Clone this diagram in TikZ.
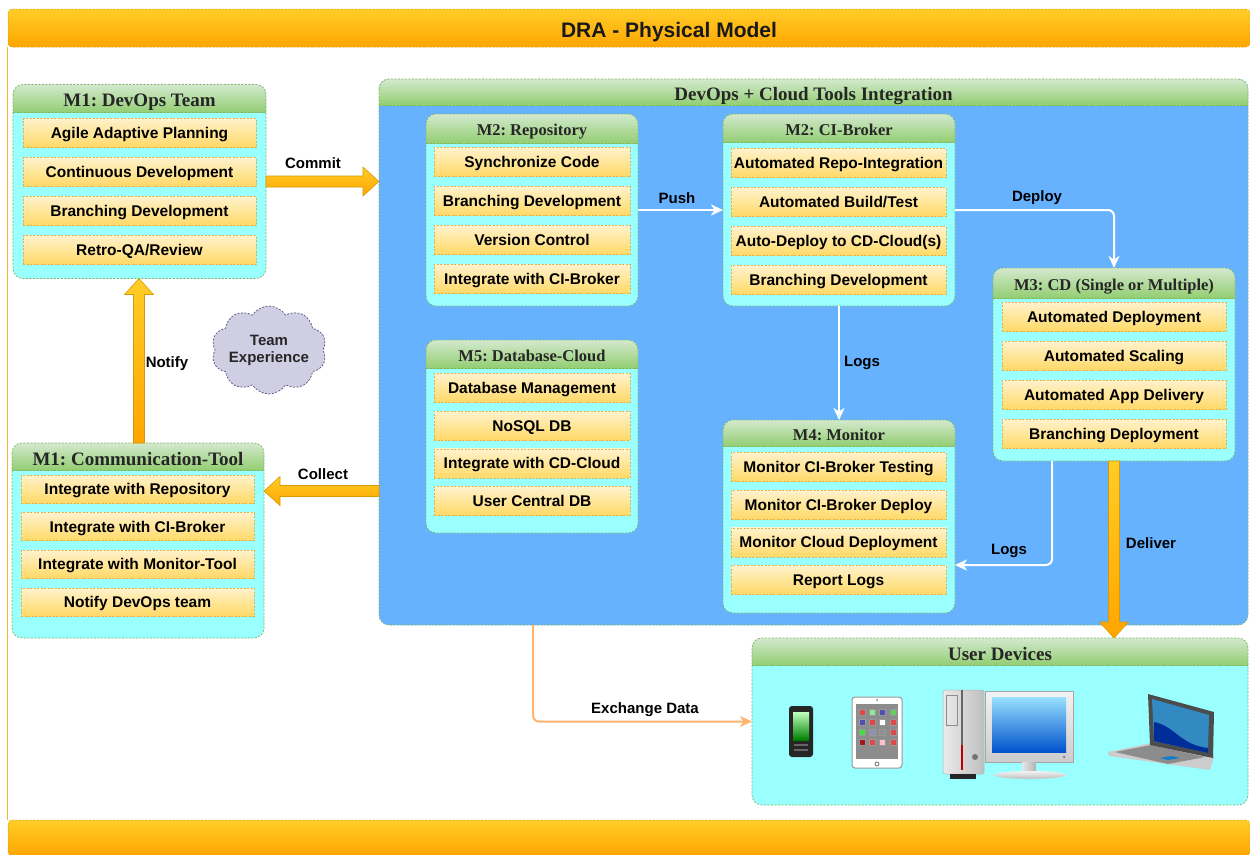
\documentclass[tikz,border=0pt]{standalone}
\usepackage{fontspec}
\setmainfont{Liberation Serif}
\setsansfont{Liberation Sans}
\usetikzlibrary{calc,shapes.symbols,arrows.meta}
\frenchspacing

\definecolor{hdtop}{HTML}{D3E9CE}
\definecolor{hdbot}{HTML}{93CE72}
\definecolor{boxline}{HTML}{82B366}
\definecolor{cyanbody}{HTML}{99FFFF}
\definecolor{bluebody}{HTML}{66B2FF}
\definecolor{itemtop}{HTML}{FFF2CC}
\definecolor{itembot}{HTML}{FFD966}
\definecolor{itemline}{HTML}{D6B656}
\definecolor{bartop}{HTML}{FFCD28}
\definecolor{barbot}{HTML}{FFA500}
\definecolor{barline}{HTML}{D79B00}
\definecolor{framel}{HTML}{F2B92E}
\definecolor{exch}{HTML}{FFB570}
\definecolor{cloudfill}{HTML}{D0CEE2}
\definecolor{cloudline}{HTML}{56517E}

\newcommand\itemfont{\sffamily\bfseries\fontsize{15.5}{17}\selectfont}
\newcommand\lblfont{\sffamily\bfseries\fontsize{15}{17}\selectfont}
\newcommand\bigtitlefont{\rmfamily\bfseries\fontsize{19}{21}\selectfont}
\newcommand\subtitlefont{\rmfamily\bfseries\fontsize{16.5}{18}\selectfont}

\tikzset{
  modbox/.style={dash pattern=on 2pt off 1.5pt, line width=0.7pt,
    rounded corners=10pt, fill=cyanbody, inner sep=0pt, outer sep=0pt},
  modline/.style={draw=boxline, dash pattern=on 2pt off 1.5pt, line width=0.7pt, rounded corners=10pt},
  item/.style={draw=itemline, dash pattern=on 2pt off 1.5pt, line width=0.6pt,
    top color=itemtop, bottom color=itembot, inner sep=0pt, outer sep=0pt,
    text height=11pt, text depth=0pt, font=\itemfont, text=black},
  bar/.style={draw=barline, dash pattern=on 2pt off 1.5pt, line width=0.5pt,
    top color=bartop, bottom color=barbot, rounded corners=4pt,
    inner sep=0pt, outer sep=0pt},
  bigtitle/.style={font=\bigtitlefont, text=black!85, inner sep=0pt, text height=12.5pt, text depth=0pt},
  subtitle/.style={font=\subtitlefont, text=black!85, inner sep=0pt, text height=11pt, text depth=0pt},
  lbl/.style={font=\lblfont, text=black, inner sep=1pt},
  wire/.style={draw=white, line width=2pt, rounded corners=6pt,
    -{Stealth[length=12pt,width=11pt,inset=3.5pt]}},
  xwire/.style={draw=exch, line width=2pt, rounded corners=6pt,
    -{Stealth[length=12pt,width=11pt,inset=3.5pt]}},
  barrow/.style={top color=bartop, bottom color=barbot, draw=barline, line width=0.6pt},
}

% green gradient header band of module #1, #2 high, then the dashed outline
\newcommand\modhead[2]{%
  \begin{scope}
    \clip[rounded corners=10pt] (#1.north west) rectangle (#1.south east);
    \shade[top color=hdtop, bottom color=hdbot, middle color=hdtop!50!hdbot]
      (#1.north west) rectangle ([yshift=-#2]#1.north east);
  \end{scope}
  \draw[boxline, line width=0.5pt, dash pattern=on 2pt off 1.5pt]
    ([yshift=-#2]#1.north west) -- ([yshift=-#2]#1.north east);
  \draw[modline] (#1.north west) rectangle (#1.south east);}

% thick shaded block arrow from #1 to #2 (coordinate names)
\newcommand\blockarrow[2]{%
  \coordinate (ba-h) at ($(#2)!16pt!(#1)$);
  \shadedraw[barrow]
    ($(#1)!5.5pt!90:(#2)$) -- ($(ba-h)!5.5pt!90:(#2)$) -- ($(ba-h)!14.5pt!90:(#2)$) --
    (#2) --
    ($(ba-h)!14.5pt!-90:(#2)$) -- ($(ba-h)!5.5pt!-90:(#2)$) -- ($(#1)!5.5pt!-90:(#2)$) -- cycle;}

\begin{document}
\begin{tikzpicture}[x=1pt,y=-1pt]
\useasboundingbox (0,0) rectangle (1250,854);
\fill[white] (0,0) rectangle (1250,854);

% page frame, header and footer bars
\draw[framel, line width=0.8pt] (7.5,47) -- (7.5,820);
\node[bar, minimum width=1242pt, minimum height=38pt] (titlebar) at (629,28) {};
\node[font=\sffamily\bfseries\fontsize{21}{24}\selectfont, text=black!90, text height=15pt, text depth=0pt, inner sep=0pt] (titletext) at (669,30) {DRA - Physical Model};
\node[bar, minimum width=1242pt, minimum height=36pt] (footbar) at (629,838) {};

% ---- M1: DevOps Team ----
\node[modbox, minimum width=253pt, minimum height=194pt] (devops) at (139.5,181.5) {};
\modhead{devops}{28pt}
\node[bigtitle] (devops-t) at ([yshift=-16pt]devops.north) {M1: DevOps Team};
\foreach \txt [count=\i] in {Agile Adaptive Planning, Continuous Development, Branching Development, Retro-QA/Review}
  \node[item, minimum width=233pt, minimum height=29pt] (dv\i) at (139.5,{133+39*(\i-1)}) {\txt};

% ---- M1: Communication-Tool ----
\node[modbox, minimum width=252pt, minimum height=195pt] (comm) at (138,540.5) {};
\modhead{comm}{27pt}
\node[bigtitle] (comm-t) at ([yshift=-16pt]comm.north) {M1: Communication-Tool};
\foreach \txt [count=\i] in {Integrate with Repository, Integrate with CI-Broker, Integrate with Monitor-Tool, Notify DevOps team}
  \node[item, minimum width=233pt, minimum height=28pt] (cm\i) at (137.5,{489+37.7*(\i-1)}) {\txt};

% ---- DevOps + Cloud Tools Integration ----
\node[modbox, fill=bluebody, minimum width=869pt, minimum height=546pt] (big) at (813.5,352) {};
\modhead{big}{26pt}
\node[bigtitle] (big-t) at ([yshift=-15pt]big.north) {DevOps + Cloud Tools Integration};

% M2: Repository
\node[modbox, minimum width=212pt, minimum height=192pt] (repo) at (532,210) {};
\modhead{repo}{29pt}
\node[subtitle] (repo-t) at ([yshift=-15.5pt]repo.north) {M2: Repository};
\foreach \txt [count=\i] in {Synchronize Code, Branching Development, Version Control, Integrate with CI-Broker}
  \node[item, minimum width=196pt, minimum height=29pt] (rp\i) at (532,{162+39*(\i-1)}) {\txt};

% M2: CI-Broker
\node[modbox, minimum width=232pt, minimum height=192pt] (ci) at (839,210) {};
\modhead{ci}{28pt}
\node[subtitle] (ci-t) at ([yshift=-16pt]ci.north) {M2: CI-Broker};
\foreach \txt [count=\i] in {Automated Repo-Integration, Automated Build/Test, Auto-Deploy to CD-Cloud(s), Branching Development}
  \node[item, minimum width=215pt, minimum height=29pt] (cb\i) at (838.5,{163+39*(\i-1)}) {\txt};

% M3: CD
\node[modbox, minimum width=242pt, minimum height=193pt] (m3) at (1114,364.5) {};
\modhead{m3}{30pt}
\node[subtitle] (m3-t) at ([yshift=-16.5pt]m3.north) {M3: CD (Single or Multiple)};
\foreach \txt [count=\i] in {Automated Deployment, Automated Scaling, Automated App Delivery, Branching Deployment}
  \node[item, minimum width=224pt, minimum height=29pt] (cd\i) at (1114,{317+39*(\i-1)}) {\txt};

% M4: Monitor
\node[modbox, minimum width=232pt, minimum height=193pt] (m4) at (839,516.5) {};
\modhead{m4}{26pt}
\node[subtitle] (m4-t) at ([yshift=-14.5pt]m4.north) {M4: Monitor};
\foreach \txt [count=\i] in {Monitor CI-Broker Testing, Monitor CI-Broker Deploy, Monitor Cloud Deployment, Report Logs}
  \node[item, minimum width=215pt, minimum height=29pt] (mn\i) at (838.5,{467+37.7*(\i-1)}) {\txt};

% M5: Database-Cloud
\node[modbox, minimum width=212pt, minimum height=193pt] (m5) at (532,436.5) {};
\modhead{m5}{28pt}
\node[subtitle] (m5-t) at ([yshift=-15.5pt]m5.north) {M5: Database-Cloud};
\foreach \txt [count=\i] in {Database Management, NoSQL DB, Integrate with CD-Cloud, User Central DB}
  \node[item, minimum width=196pt, minimum height=29pt] (db\i) at (532,{388+37.7*(\i-1)}) {\txt};

% ---- User Devices ----
\node[modbox, minimum width=496pt, minimum height=167pt] (ud) at (1000,721.5) {};
\modhead{ud}{27pt}
\node[bigtitle] (ud-t) at ([yshift=-16.5pt]ud.north) {User Devices};

% ---- Team Experience cloud ----
\node[cloud, cloud puffs=10, cloud puff arc=115, cloud ignores aspect, draw=cloudline,
  dash pattern=on 2pt off 1.5pt, line width=0.7pt, fill=cloudfill,
  minimum width=106pt, minimum height=88pt, inner sep=0pt, align=center,
  font=\lblfont, text=black!85] (team) at (269,350) {Team\\Experience};

% ---- block arrows ----
\coordinate (commitA) at (devops.east);
\coordinate (commitB) at (devops.east -| big.west);
\blockarrow{commitA}{commitB}
\coordinate (notifyA) at (139,443);
\coordinate (notifyB) at (notifyA |- devops.south);
\blockarrow{notifyA}{notifyB}
\coordinate (collectA) at (big.west |- 0,491);
\coordinate (collectB) at (collectA -| comm.east);
\blockarrow{collectA}{collectB}
\coordinate (deliverA) at (m3.south);
\coordinate (deliverB) at (m3.south |- ud.north);
\blockarrow{deliverA}{deliverB}

% ---- thin connectors ----
\draw[wire] (repo) -- (ci);
\draw[wire] (ci.east) -| (m3.north);
\draw[wire] (ci) -- (m4);
\coordinate (m3out) at ([xshift=-62pt]m3.south);
\draw[wire] (m3out) |- ([yshift=-48.5pt]m4.east);
\coordinate (bigout) at (533,625);
\draw[xwire] (bigout) |- (ud.west);

% ---- connector labels ----
\node[lbl] (l-commit) at (313,163) {Commit};
\node[lbl] (l-notify) at (167,364) {Notify};
\node[lbl] (l-collect) at (323,474) {Collect};
\node[lbl] (l-push) at (677,198) {Push};
\node[lbl] (l-deploy) at (1037,198) {Deploy};
\node[lbl] (l-logs1) at (862,363) {Logs};
\node[lbl] (l-logs2) at (1009,551) {Logs};
\node[lbl] (l-deliver) at (1151,543) {Deliver};
\node[lbl] (l-exch) at (645,710) {Exchange Data};

% ---- device icons ----
% phone
\fill[black!85, rounded corners=3pt] (789,706) rectangle (813,757);
\shade[top color=green!25!white, bottom color=green!50!black] (793,712) rectangle (809,740);
\fill[black!60] (794,744) rectangle (808,746);
\fill[black!60] (794,749) rectangle (808,751);
% tablet
\draw[black!40, fill=white, rounded corners=3pt, line width=1pt] (852,697) rectangle (902,768);
\fill[black!45] (856,704) rectangle (898,759);
\fill[black!50] (877,700) circle (1pt);
\draw[black!55, line width=0.8pt] (877,764) circle (2pt);
\foreach \c [count=\k from 0] in {E04848,90E890,5050B0,60D060, 5050B0,E04848,FFFFFF,E04848, 40E040,9090B0,909090,E04848, A01818,E04848,FFC0C8,E04848}{
  \pgfmathtruncatemacro\col{mod(\k,4)}
  \pgfmathtruncatemacro\row{div(\k,4)}
  \definecolor{appc}{HTML}{\c}
  \fill[appc, draw=black!40, line width=0.3pt] ({859+10.3*\col},{709+10*\row}) rectangle ++(6,6);
}
% desktop tower
\shade[left color=black!8, right color=black!25, rounded corners=2pt] (943,690) rectangle (984,774);
\draw[black!30, line width=0.5pt, rounded corners=2pt] (943,690) rectangle (984,774);
\draw[black!45, line width=0.6pt] (946,695) rectangle (957,725);
\fill[black!60] (961,690) rectangle (963,745);
\fill[red!75!black] (961,745) rectangle (963,770);
\fill[black!55] (975,757) circle (3pt);
\fill[black!85] (950,774) rectangle (976,779);
% desktop monitor
\shade[top color=black!5, bottom color=black!20] (985,691) rectangle (1073,762);
\draw[black!35, line width=0.5pt] (985,691) rectangle (1073,762);
\shade[top color=blue!30!cyan!40!white, bottom color=blue!60!cyan!80!black] (992,697) rectangle (1066,752);
\fill[black!45] (1064,757) circle (1.5pt);
\shade[left color=black!10, right color=black!30] (1022,762) rectangle (1036,772);
\shade[top color=black!5, bottom color=black!25] (1030,775) ellipse (36pt and 4pt);
% laptop
\fill[black!20] (1108,752) -- (1151,743) -- (1214,757) -- (1210,770) -- (1109,756) -- cycle;
\fill[black!45] (1115,752) -- (1151,745) -- (1205,757) -- (1168,764) -- cycle;
\fill[cyan!60!blue] (1160,758) -- (1172,756) -- (1180,758) -- (1168,760) -- cycle;
\fill[black!70] (1148,694) -- (1214,712) -- (1213,758) -- (1150,745) -- cycle;
\fill[blue!40!cyan!70!black!80] (1152,699) -- (1209,715) -- (1208,753) -- (1154,741) -- cycle;
\fill[blue!70!cyan!60!black] (1154,722) .. controls (1175,726) and (1180,745) .. (1208,748) -- (1208,753) -- (1154,741) -- cycle;
\end{tikzpicture}
\end{document}
